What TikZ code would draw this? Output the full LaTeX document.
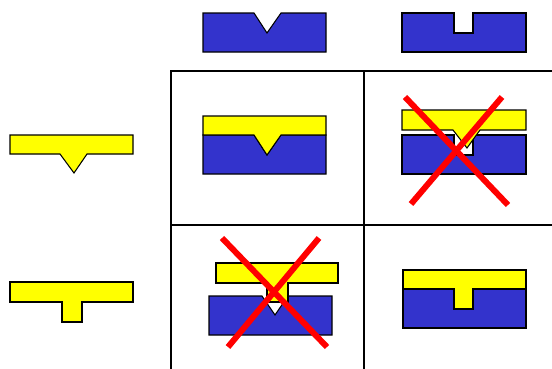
\documentclass[tikz,border=0pt]{standalone}
\usepackage{xcolor}
\usepackage{tikz}
\definecolor{waferBlue}{HTML}{3333CC}
\definecolor{stampYellow}{HTML}{FFFF00}
\definecolor{crossRed}{HTML}{FF0000}

\begin{document}
\begin{tikzpicture}[x=0.02cm,y=-0.02cm,
    wafer/.style={fill=waferBlue,draw=black,line width=0.6pt,line join=miter},
    stamp/.style={fill=stampYellow,draw=black,line width=0.6pt,line join=miter},
    grid thick/.style={line width=1.7pt},
    grid thin/.style={line width=0.85pt},
    cross/.style={crossRed,line width=3.4pt}]
        \useasboundingbox (0,0) rectangle (552,369);

        % top row: substrates
        \draw[wafer] (203,13) -- (254,13) -- (267,33) -- (281,13) -- (326,13)
                     -- (326,52) -- (203,52) -- cycle;
        \draw[wafer] (402,13) -- (454,13) -- (454,33) -- (473,33) -- (473,13)
                     -- (526,13) -- (526,52) -- (402,52) -- cycle;

        % left column: stamps
        \draw[stamp] (10,135) -- (133,135) -- (133,154) -- (87,154) -- (74,173)
                     -- (60,154) -- (10,154) -- cycle;
        \draw[stamp] (10,282) -- (133,282) -- (133,302) -- (82,302) -- (82,322)
                     -- (62,322) -- (62,302) -- (10,302) -- cycle;

        % cell 1,1
        \draw[wafer] (203,135) -- (254,135) -- (267,155) -- (281,135) -- (326,135)
                     -- (326,174) -- (203,174) -- cycle;
        \draw[stamp] (203,116) -- (326,116) -- (326,135) -- (281,135) -- (267,155)
                     -- (254,135) -- (203,135) -- cycle;

        % cell 1,2
        \draw[wafer] (402,135) -- (454,135) -- (454,155) -- (473,155) -- (473,135)
                     -- (526,135) -- (526,174) -- (402,174) -- cycle;
        \draw[stamp] (402,110) -- (526,110) -- (526,130) -- (480,130) -- (467,148)
                     -- (453,130) -- (402,130) -- cycle;
        \draw[cross] (405,97) -- (508,205);
        \draw[cross] (502,97) -- (411,204);

        % cell 2,1
        \draw[wafer] (209,296) -- (262,296) -- (275,315) -- (288,296) -- (332,296)
                     -- (332,335) -- (209,335) -- cycle;
        \draw[stamp] (216,263) -- (338,263) -- (338,283) -- (288,283) -- (288,302)
                     -- (267,302) -- (267,283) -- (216,283) -- cycle;
        \draw[cross] (222,238) -- (327,347);
        \draw[cross] (319,238) -- (228,347);

        % cell 2,2
        \draw[wafer] (403,289) -- (454,289) -- (454,309) -- (473,309) -- (473,289)
                     -- (526,289) -- (526,328) -- (403,328) -- cycle;
        \draw[stamp] (403,270) -- (526,270) -- (526,289) -- (473,289) -- (473,309)
                     -- (454,309) -- (454,289) -- (403,289) -- cycle;

        % table lines
        \draw[grid thin] (364,71) -- (364,369);
        \draw[grid thin] (171,225) -- (552,225);
        \draw[grid thick] (552,71) -- (171,71) -- (171,369);
    \end{tikzpicture}
\end{document}
